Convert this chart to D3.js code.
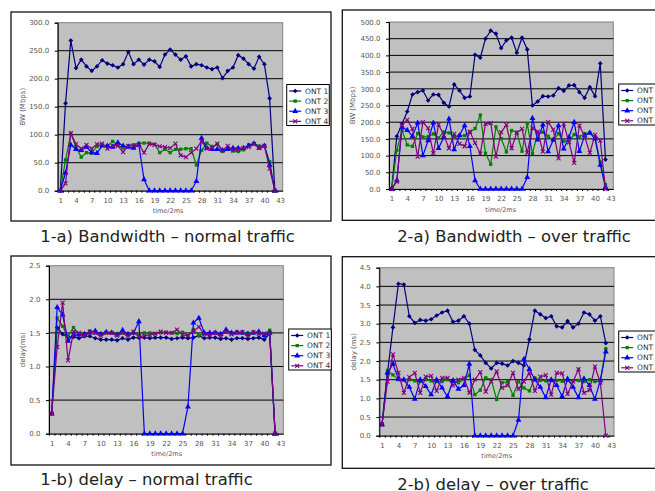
<!DOCTYPE html>
<html>
<head>
<meta charset="utf-8">
<script src="https://cdn.jsdelivr.net/npm/d3@7"></script>
<style>
body { margin:0; background:#fff; }
svg { display:block; font-family:"DejaVu Sans", sans-serif; }
</style>
</head>
<body>
<svg id="chart" width="655" height="491"></svg>
<script>
// categories (time/2ms) and axis ticks
var categories = [1,2,3,4,5,6,7,8,9,10,11,12,13,14,15,16,17,18,19,20,21,22,23,24,25,26,27,28,29,30,31,32,33,34,35,36,37,38,39,40,41,42,43];
var xTickLabels = [1,4,7,10,13,16,19,22,25,28,31,34,37,40,43];
var seriesNames = ["ONT 1","ONT 2","ONT 3","ONT 4"];
var bwNormalTicks = [0,50,100,150,200,250,300];
var bwOverTicks = [0,50,100,150,200,250,300,350,400,450,500];
var delayNormalTicks = [0,0.5,1,1.5,2,2.5];
var delayOverTicks = [0,0.5,1,1.5,2,2.5,3,3.5,4,4.5];

// 1-a) bandwidth, normal traffic (Mbps)
var bwNormalOnt1 = [0,156,268,219,234,222,214,222,233,227,224,220,226,248,226,234,225,234,231,221,243,252,243,234,240,222,226,224,220,217,220,201,214,220,242,236,226,218,239,226,165,0];
var bwNormalOnt2 = [0,55,102,78,60,68,67,79,82,80,88,82,76,80,82,85,85,85,83,68,74,68,74,74,75,75,46,72,85,79,83,70,75,71,70,73,82,84,80,80,52,0];
var bwNormalOnt3 = [0,32,82,74,72,78,68,67,80,80,78,86,80,78,76,82,20,0,0,0,0,0,0,0,0,0,17,94,76,74,74,72,74,76,76,76,80,84,76,80,46,0];
var bwNormalOnt4 = [0,13,103,83,75,82,75,83,84,75,80,80,69,80,80,82,68,83,82,79,78,76,84,63,60,68,75,88,75,76,84,72,80,72,73,76,78,83,77,80,40,0];

// 2-a) bandwidth, over traffic (Mbps)
var bwOverOnt1 = [0,158,195,232,283,290,295,265,283,282,258,247,313,295,273,277,402,393,450,474,465,422,445,453,408,453,418,250,262,278,277,280,302,294,310,311,290,273,305,278,376,88];
var bwOverOnt2 = [0,116,176,132,128,166,156,157,165,153,171,168,157,160,160,170,181,221,107,74,186,151,111,175,170,113,196,106,168,170,158,146,166,143,145,163,156,166,168,156,81,13];
var bwOverOnt3 = [0,25,185,176,158,198,100,145,198,122,155,210,118,160,190,128,25,0,0,0,0,0,0,0,0,0,35,212,147,192,112,147,190,120,155,200,113,160,168,150,72,5];
var bwOverOnt4 = [0,22,192,207,180,97,200,182,107,193,162,122,165,135,128,172,138,106,195,197,97,170,192,122,168,180,108,182,172,112,200,178,92,195,140,78,190,157,108,162,145,0];

// 1-b) delay, normal traffic (ms)
var delayNormalOnt1 = [0.3,1.58,1.48,1.44,1.44,1.42,1.45,1.45,1.42,1.40,1.40,1.40,1.39,1.42,1.40,1.43,1.43,1.43,1.42,1.43,1.43,1.43,1.41,1.42,1.43,1.42,1.43,1.46,1.42,1.43,1.43,1.41,1.42,1.40,1.42,1.42,1.41,1.42,1.43,1.40,1.49,0];
var delayNormalOnt2 = [0.3,1.72,1.60,1.45,1.58,1.48,1.47,1.53,1.50,1.49,1.50,1.50,1.49,1.50,1.47,1.50,1.48,1.50,1.50,1.49,1.50,1.51,1.50,1.49,1.51,1.46,1.55,1.46,1.49,1.48,1.50,1.49,1.51,1.50,1.52,1.50,1.50,1.50,1.49,1.48,1.54,0];
var delayNormalOnt3 = [0.3,1.88,1.77,1.38,1.47,1.47,1.48,1.50,1.53,1.48,1.51,1.50,1.47,1.54,1.48,1.50,1.67,0,0,0,0,0,0,0,0,0.40,1.65,1.72,1.50,1.50,1.50,1.48,1.55,1.50,1.50,1.50,1.48,1.50,1.52,1.46,1.50,0];
var delayNormalOnt4 = [0.3,1.29,1.95,1.09,1.52,1.50,1.46,1.51,1.50,1.46,1.50,1.50,1.46,1.50,1.46,1.52,1.44,1.46,1.47,1.49,1.52,1.50,1.50,1.55,1.47,1.46,1.52,1.59,1.48,1.46,1.50,1.46,1.52,1.48,1.50,1.51,1.46,1.51,1.49,1.49,1.50,0];

// 2-b) delay, over traffic (ms)
var delayOverOnt1 = [0.3,1.68,2.9,4.07,4.05,3.2,3.02,3.1,3.08,3.12,3.22,3.3,3.35,3.05,3.08,3.2,3.0,2.3,2.15,1.95,1.8,1.95,1.93,1.88,2.0,1.95,1.88,2.58,3.35,3.25,3.15,3.2,2.93,2.9,3.07,2.9,3.0,3.3,3.25,3.08,3.2,2.48];
var delayOverOnt2 = [0.3,1.75,1.63,1.5,1.5,1.5,1.47,1.45,1.5,1.47,1.45,1.45,1.5,1.45,1.42,1.5,1.62,1.1,1.22,1.55,1.5,0.97,1.42,1.45,1.08,1.45,1.28,1.2,1.55,1.48,1.47,1.48,1.48,1.46,1.48,1.47,1.48,1.45,1.5,1.45,1.47,2.33];
var delayOverOnt3 = [0.3,1.68,1.92,1.52,1.5,1.3,0.98,1.5,1.32,1.1,1.5,1.28,1.05,1.48,1.25,1.35,1.92,0,0,0,0,0,0,0,0,0.42,2.05,1.78,1.5,1.3,1.02,1.5,1.35,1.05,1.52,1.3,1.02,1.53,1.35,0.98,1.48,2.25];
var delayOverOnt4 = [0.3,1.45,2.18,1.68,1.15,1.57,1.68,1.15,1.58,1.6,1.2,1.55,1.55,1.35,1.5,1.55,1.15,1.5,1.7,1.18,1.45,1.72,1.28,1.35,1.68,1.25,1.45,1.68,1.2,1.58,1.62,1.1,1.68,1.67,1.12,1.45,1.78,1.15,1.22,1.85,1.42,0];

var seriesColors = ["#000080", "#008000", "#0000ff", "#800080"];

// layout of the four panels (frame / plot area as [x0, y0, x1, y1])
var panels = [
  {series: [bwNormalOnt1, bwNormalOnt2, bwNormalOnt3, bwNormalOnt4], ticks: bwNormalTicks,
   frame: [11, 12, 331, 221], plot: [57.7, 22.7, 282.7, 190.7], legend: [286.7, 84.5],
   yTitle: "BW (Mbps)", yTitleX: 22.7, xTitleX: 168, caption: "1-a) Bandwidth \u2013 normal traffic", capX: 167.5, capY: 242},
  {series: [bwOverOnt1, bwOverOnt2, bwOverOnt3, bwOverOnt4], ticks: bwOverTicks,
   frame: [342.3, 10, 680, 220.3], plot: [389, 22, 613.3, 189], legend: [618.7, 84],
   yTitle: "BW (Mbps)", yTitleX: 352.7, xTitleX: 500.7, caption: "2-a) Bandwidth \u2013 over traffic", capX: 514, capY: 242},
  {series: [delayNormalOnt1, delayNormalOnt2, delayNormalOnt3, delayNormalOnt4], ticks: delayNormalTicks,
   frame: [11, 256, 331, 465], plot: [49, 265.7, 283.3, 433.7], legend: [288.7, 329],
   yTitle: "delay(ms)", yTitleX: 22.7, xTitleX: 166.7, caption: "1-b) delay \u2013 normal traffic", capX: 146.5, capY: 484.5},
  {series: [delayOverOnt1, delayOverOnt2, delayOverOnt3, delayOverOnt4], ticks: delayOverTicks,
   frame: [342.3, 256.7, 680, 468.3], plot: [379.3, 267.7, 614, 435.7], legend: [618.7, 331],
   yTitle: "delay (ms)", yTitleX: 354, xTitleX: 496.7, caption: "2-b) delay \u2013 over traffic", capX: 493, capY: 489.5}
];

var svg = d3.select("#chart");

// marker shapes: diamond, square, triangle, x
function markerPath(k) {
  if (k == 0 || k == 1) return d3.symbol(d3.symbolSquare, 11)();
  if (k == 2) return d3.symbol(d3.symbolTriangle, 15)();
  return "M-2,-2L2,2M-2,2L2,-2";
}

function addMarker(g, k, color) {
  g.append("path")
    .attr("d", markerPath(k))
    .attr("transform", k == 0 ? "rotate(45)" : null)
    .attr("fill", k == 3 ? "none" : color)
    .attr("stroke", k == 3 ? color : "none")
    .attr("stroke-width", 1.1);
}

function drawPanel(p) {
  var f = p.frame, pl = p.plot;
  svg.append("rect")
    .attr("x", f[0]).attr("y", f[1]).attr("width", f[2] - f[0]).attr("height", f[3] - f[1])
    .attr("fill", "none").attr("stroke", "#111").attr("stroke-width", 1.3);

  var x = d3.scalePoint().domain(categories).range([pl[0], pl[2]]).padding(0.5);
  var ymax = d3.max(p.ticks);
  var y = d3.scaleLinear().domain([0, ymax]).range([pl[3], pl[1]]);

  svg.append("rect")
    .attr("x", pl[0]).attr("y", pl[1]).attr("width", pl[2] - pl[0]).attr("height", pl[3] - pl[1])
    .attr("fill", "#c0c0c0").attr("stroke", "#808080").attr("stroke-width", 1);

  svg.append("g").selectAll("line")
    .data(p.ticks.filter(function(t) { return t > 0 && t < ymax; }))
    .enter().append("line")
    .attr("x1", pl[0]).attr("x2", pl[2])
    .attr("y1", function(d) { return y(d); }).attr("y2", function(d) { return y(d); })
    .attr("stroke", "#000").attr("stroke-width", 1);

  var yAxis = svg.append("g")
    .attr("transform", "translate(" + pl[0] + ",0)")
    .call(d3.axisLeft(y).tickValues(p.ticks).tickFormat(d3.format(".1f")).tickSize(3).tickPadding(5.5));
  yAxis.select(".domain").attr("stroke", "#000");
  yAxis.selectAll("text").attr("font-size", 7).attr("fill", "#555").attr("font-family", "DejaVu Sans");

  var xAxis = svg.append("g")
    .attr("transform", "translate(0," + pl[3] + ")")
    .call(d3.axisBottom(x).tickValues(categories)
      .tickFormat(function(d) { return xTickLabels.indexOf(d) >= 0 ? d : ""; })
      .tickSize(2).tickSizeOuter(0));
  xAxis.select(".domain").attr("stroke", "#000");
  xAxis.selectAll(".tick line").attr("transform", "translate(" + (-x.step() / 2) + ",0)");
  xAxis.selectAll("text").attr("y", 10).attr("dy", "0.35em")
    .attr("font-size", 7).attr("fill", "#555").attr("font-family", "DejaVu Sans");

  var line = d3.line()
    .x(function(d, i) { return x(categories[i]); })
    .y(function(d) { return y(d); });

  p.series.forEach(function(values, k) {
    var color = seriesColors[k];
    svg.append("path").datum(values)
      .attr("d", line).attr("fill", "none")
      .attr("stroke", color).attr("stroke-width", 1.2);
    svg.append("g").selectAll("g")
      .data(values).enter().append("g")
      .attr("transform", function(d, i) { return "translate(" + x(categories[i]) + "," + y(d) + ")"; })
      .each(function() { addMarker(d3.select(this), k, color); });
  });

  // legend
  var lx = p.legend[0], ly = p.legend[1];
  svg.append("rect").attr("x", lx).attr("y", ly).attr("width", 42.6).attr("height", 41)
    .attr("fill", "#fff").attr("stroke", "#000").attr("stroke-width", 1);
  seriesNames.forEach(function(name, k) {
    var ry = ly + 6.5 + k * 10.1;
    var color = seriesColors[k];
    svg.append("line").attr("x1", lx + 2.5).attr("x2", lx + 14.5).attr("y1", ry).attr("y2", ry)
      .attr("stroke", color).attr("stroke-width", 1.2);
    var mg = svg.append("g").attr("transform", "translate(" + (lx + 8.5) + "," + ry + ")");
    addMarker(mg, k, color);
    svg.append("text").attr("x", lx + 18.3).attr("y", ry).attr("dy", "0.35em")
      .attr("font-size", 7.5).attr("fill", "#333").text(name);
  });

  // titles
  var cy = (pl[1] + pl[3]) / 2;
  svg.append("text")
    .attr("transform", "translate(" + p.yTitleX + "," + cy + ") rotate(-90)")
    .attr("text-anchor", "middle").attr("dy", "0.35em")
    .attr("font-size", 7).attr("fill", "#555").text(p.yTitle);
  svg.append("text")
    .attr("x", p.xTitleX).attr("y", pl[3] + 20.5).attr("dy", "0.35em")
    .attr("text-anchor", "middle").attr("font-size", 6.5).attr("fill", "#555").text("time/2ms");
  svg.append("text")
    .attr("x", p.capX).attr("y", p.capY)
    .attr("text-anchor", "middle").attr("font-size", 16.4).attr("fill", "#222").text(p.caption);
}

panels.forEach(drawPanel);
</script>
</body>
</html>
